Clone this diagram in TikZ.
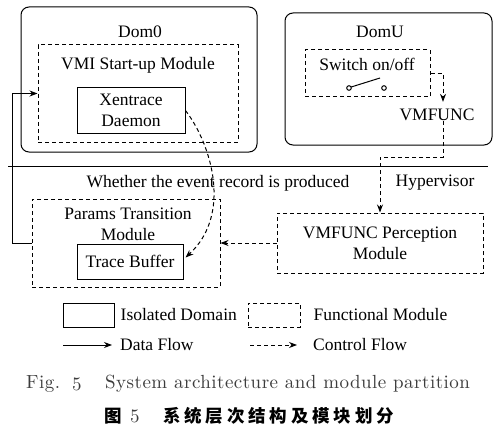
\documentclass[tikz,border=0pt]{standalone}
\usepackage{fontspec}
\usepackage{tikz}
\usetikzlibrary{arrows.meta,positioning,calc}
\newfontfamily\diagfont{Liberation Serif}
\newfontfamily\capfont[LetterSpace=2.5]{lmroman10-regular.otf}
\newfontfamily\cjk[LetterSpace=22]{Noto Sans CJK SC}
\definecolor{capgray}{RGB}{60,60,60}

\begin{document}
\begin{tikzpicture}[x=1pt,y=-1pt,
  every node/.style={font=\diagfont\fontsize{17.5}{21}\selectfont, inner sep=0pt},
  isodomain/.style={draw, line width=1pt, rounded corners=8pt},
  funcmod/.style={draw, line width=1pt, dash pattern=on 4pt off 3pt, align=center},
  plainbox/.style={draw, line width=1pt, align=center},
  dataflow/.style={line width=1pt, -{Stealth[length=8pt,width=6pt]}},
  ctrlflow/.style={line width=1pt, dash pattern=on 4pt off 3pt, -{Stealth[length=8pt,width=6pt]}},
  capfnt/.style={font=\capfont\fontsize{19}{22}\selectfont, text=capgray},
  cjkfnt/.style={font=\cjk\bfseries\fontsize{17.5}{20}\selectfont}]
\useasboundingbox (0,0) rectangle (501,436);

% domains
\node[isodomain, minimum width=236pt, minimum height=145pt] (dom0) at (139,79.5) {};
\node (dom0lbl) at (140,32) {Dom0};
\node[isodomain, minimum width=207pt, minimum height=132pt] (domu) at (388.5,79) {};
\node (domulbl) at (380,32) {DomU};

% modules
\node[funcmod, minimum width=200pt, minimum height=97pt] (vmi) at (138,93.5) {};
\node (vmilbl) at (138,65) {VMI Start-up Module};
\node[plainbox, minimum width=108pt, minimum height=45pt] (xen) at (131,110.5) {Xentrace\\Daemon};

\node[funcmod, minimum width=125pt, minimum height=47pt] (switch) at (367.5,73.5) {};
\node (switchlbl) at (367,64) {Switch on/off};
\coordinate (swa) at (349,88);
\coordinate (swb) at (384,88);
\draw[line width=1pt] (swa) circle (2.3pt) (swb) circle (2.3pt);
\draw[line width=1pt] ($(swa)+(2.2,-1)$) -- (380,78);
\node (vmfunc) at (437,115) {VMFUNC};

% hypervisor
\draw[line width=1pt] (8,166) coordinate (sepl) -- (488,166) coordinate (sepr);
\node (whether) at (218,183) {Whether the event record is produced};
\node (hyper) at (435,183) {Hypervisor};

\node[funcmod, minimum width=188pt, minimum height=88pt] (params) at (126,243) {};
\node[align=center] (paramslbl) at (128,224) {Params Transition\\Module};
\node[plainbox, minimum width=106pt, minimum height=35pt] (trace) at (130,261.5) {Trace Buffer};
\node[funcmod, minimum width=206pt, minimum height=60pt] (percep) at (380,243) {VMFUNC Perception\\Module};

% edges
\draw[ctrlflow] (switch.east) -| ([xshift=6pt,yshift=7pt]vmfunc.north);
\draw[ctrlflow] ([xshift=6pt]vmfunc.south) -- ++(0,36) -| (percep.north);
\draw[ctrlflow] (percep.west) -- (params.east);
\draw[dataflow] (params.west) -- ++(-19,0) |- (vmi.west);
\draw[ctrlflow] (xen.east) .. controls (212,145) and (232,215) .. ([xshift=2pt,yshift=4pt]trace.east);

% legend
\node[plainbox, minimum width=51pt, minimum height=24pt] (legdom) at (88.5,315) {};
\node[right=6pt of legdom] (legdomtxt) {Isolated Domain};
\node[funcmod, minimum width=52pt, minimum height=24pt] (legmod) at (274,315) {};
\node[right=13pt of legmod] (legmodtxt) {Functional Module};
\coordinate (dfa) at (63,345);
\coordinate (dfb) at (112,345);
\draw[dataflow] (dfa) -- (dfb);
\node[right=8pt of dfb] (dftxt) {Data Flow};
\coordinate (cfa) at (250,345);
\coordinate (cfb) at (297,345);
\draw[ctrlflow] (cfa) -- (cfb);
\node[right=16pt of cfb] (cftxt) {Control Flow};

% caption
\node[capfnt, anchor=west] (figlbl) at (26,384) {Fig.};
\node[capfnt, anchor=west] (figno) at (72,384) {5};
\node[capfnt, anchor=west] (figtitle) at (105,384) {System architecture and module partition};
\node[cjkfnt, anchor=west] (cnfig) at (104,416) {图};
\node[capfnt, anchor=west] (cnno) at (130,416) {5};
\node[cjkfnt, anchor=west] (cntitle) at (163,416) {系统层次结构及模块划分};
\end{tikzpicture}
\end{document}
